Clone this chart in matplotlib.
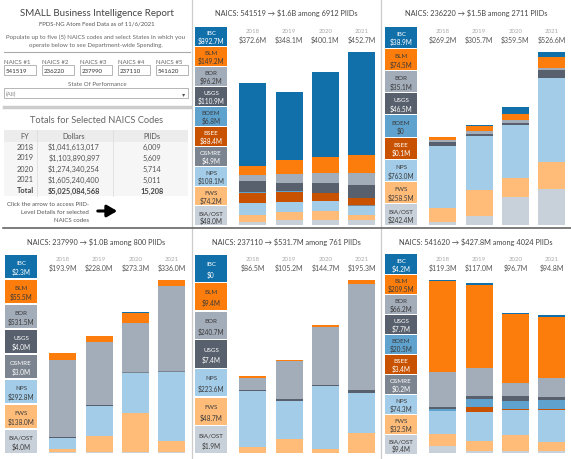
import matplotlib.pyplot as plt
from matplotlib.patches import Rectangle, FancyArrowPatch
import numpy as np

plt.rcParams['font.family'] = ['Lato', 'DejaVu Sans']

# ---- data ----
years = ['2018', '2019', '2020', '2021']
fy_dollars = [1041613017, 1103890897, 1274340254, 1605240400]
fy_piids = [6009, 5609, 5714, 5011]
total_piids = 15208

naics = ['541519', '236220', '237990', '237110', '541620']
naics_sum = ['$1.6B', '$1.5B', '$1.0B', '$531.7M', '$427.8M']
naics_piids = [6912, 2711, 800, 761, 4024]

# legend order, top to bottom (stack order is the reverse)
agencies = ['IBC', 'BLM', 'BOR', 'USGS', 'BOEM', 'BSEE', 'OSMRE', 'NPS', 'FWS', 'BIA/OST']
colors = {'IBC': '#1170aa', 'BLM': '#fc7d0b', 'BOR': '#a3acb9', 'USGS': '#57606c',
          'BOEM': '#5fa2ce', 'BSEE': '#c85200', 'OSMRE': '#7b848f', 'NPS': '#a3cce9',
          'FWS': '#ffbc79', 'BIA/OST': '#c8d0d9'}
dark = ['IBC', 'USGS', 'BSEE', 'OSMRE']

tot_541519 = [372.6, 348.1, 400.1, 452.7]
leg_541519 = {'IBC': 892.7, 'BLM': 149.2, 'BOR': 96.2, 'USGS': 110.9, 'BOEM': 6.8,
              'BSEE': 88.4, 'OSMRE': 4.9, 'NPS': 108.1, 'FWS': 74.2, 'BIA/OST': 48.0}
seg_541519 = {'IBC': [217, 178, 223, 270], 'BLM': [25, 37, 41, 46],
              'BOR': [15, 24, 25.5, 31], 'USGS': [30.5, 20, 26, 34.4],
              'BOEM': [1.5, 1.7, 1.8, 1.8], 'BSEE': [25, 26, 19, 18.4],
              'OSMRE': [1.2, 1.2, 1.2, 1.3], 'NPS': [32, 27, 25.5, 23.6],
              'FWS': [17.5, 19, 23, 14.5], 'BIA/OST': [7.9, 14.2, 14.1, 11.8]}

tot_236220 = [269.2, 305.7, 359.5, 526.6]
leg_236220 = {'IBC': 38.9, 'BLM': 74.5, 'BOR': 35.1, 'USGS': 46.5, 'BOEM': 0,
              'BSEE': 0.1, 'NPS': 763.0, 'FWS': 258.5, 'BIA/OST': 242.4}
seg_236220 = {'IBC': [0.5, 3, 22.4, 15], 'BLM': [9, 16, 17.3, 33],
              'BOR': [8, 9, 8.1, 8], 'USGS': [12, 7, 8.1, 22],
              'BOEM': [0, 0, 0, 0], 'BSEE': [0, 0, 0.1, 0],
              'NPS': [188.8, 163.9, 161.2, 256], 'FWS': [40.7, 78.3, 55.9, 84],
              'BIA/OST': [10.2, 28.5, 86.4, 108.6]}

tot_237990 = [193.9, 228.0, 273.3, 336.0]
leg_237990 = {'IBC': 2.3, 'BLM': 55.5, 'BOR': 531.5, 'USGS': 4.0, 'OSMRE': 3.0,
              'NPS': 292.8, 'FWS': 138.0, 'BIA/OST': 4.0}
seg_237990 = {'IBC': [0, 0, 2.3, 0], 'BLM': [13.7, 12.4, 19.5, 11.1],
              'BOR': [149.5, 122.5, 94.0, 165.5], 'USGS': [1.3, 1.2, 0.7, 0.8],
              'OSMRE': [1.0, 0.8, 0.6, 0.6], 'NPS': [20.8, 57.9, 79.4, 134.7],
              'FWS': [6.6, 32.2, 75.8, 22.3], 'BIA/OST': [1.0, 1.0, 1.0, 1.0]}

tot_237110 = [86.5, 105.2, 144.7, 195.3]
leg_237110 = {'IBC': 0, 'BLM': 9.4, 'BOR': 240.7, 'USGS': 7.4, 'NPS': 223.6,
              'FWS': 48.7, 'BIA/OST': 1.9}
seg_237110 = {'IBC': [0, 0, 0, 0], 'BLM': [1.5, 1.5, 3.0, 4.0],
              'BOR': [13.6, 42.6, 65.0, 120.2], 'USGS': [1.1, 1.9, 1.1, 3.0],
              'NPS': [63.8, 43.6, 70.6, 46.0], 'FWS': [6.0, 15.1, 4.5, 21.7],
              'BIA/OST': [0.5, 0.5, 0.5, 0.4]}

tot_541620 = [119.3, 117.0, 96.7, 94.8]
leg_541620 = {'IBC': 4.2, 'BLM': 209.5, 'BOR': 66.2, 'USGS': 7.7, 'BOEM': 20.5,
              'BSEE': 3.4, 'OSMRE': 0.2, 'NPS': 74.3, 'FWS': 32.5, 'BIA/OST': 9.4}
seg_541620 = {'IBC': [1.0, 1.1, 1.1, 1.0], 'BLM': [62.8, 57.5, 47.3, 41.8],
              'BOR': [23.8, 19.4, 9.2, 13.6], 'USGS': [1.2, 1.8, 3.0, 1.6],
              'BOEM': [1.6, 5.8, 6.0, 6.7], 'BSEE': [0.2, 2.8, 0.2, 0.2],
              'OSMRE': [0, 0, 0.2, 0], 'NPS': [15.6, 20.5, 17.3, 22.0],
              'FWS': [8.0, 6.6, 11.0, 6.5], 'BIA/OST': [5.1, 1.5, 1.4, 1.4]}

totals = [tot_541519, tot_236220, tot_237990, tot_237110, tot_541620]
legends = [leg_541519, leg_236220, leg_237990, leg_237110, leg_541620]
segments = [seg_541519, seg_236220, seg_237990, seg_237110, seg_541620]

# ---- figure ----
W, H = 571, 460
fig = plt.figure(figsize=(W / 100, H / 100), dpi=100)


def fx(x):
    return x / W


def fy(y):
    return 1 - y / H


def txt(x, y, s, **kw):
    kw.setdefault('ha', 'center')
    kw.setdefault('va', 'center')
    fig.text(fx(x), fy(y), s, **kw)


def rect(x, y, w, h, **kw):
    fig.add_artist(Rectangle((fx(x), fy(y + h)), w / W, h / H,
                             transform=fig.transFigure, **kw))


def line(x0, y0, x1, y1, **kw):
    fig.add_artist(plt.Line2D([fx(x0), fx(x1)], [fy(y0), fy(y1)],
                              transform=fig.transFigure, **kw))


# left info panel
txt(97, 14, 'SMALL Business Intelligence Report', fontsize=7.0, color='#444444')
txt(97, 24, 'FPDS-NG Atom Feed Data as of 11/6/2021', fontsize=4.3, color='#555555')
txt(96, 37, 'Populate up to five (5) NAICS codes and select States in which you',
    fontsize=4.4, color='#666666')
txt(96, 45, 'operate below to see Department-wide Spending.', fontsize=4.4, color='#666666')
line(4, 53, 190, 53, color='#aaaaaa', lw=0.8)

box_x = [4, 42, 80, 118, 156]
for i, code in enumerate(naics):
    txt(box_x[i], 62, f'NAICS #{i + 1}', fontsize=4.4, color='#666666', ha='left')
    rect(box_x[i], 66, 32, 10, facecolor='white', edgecolor='#aaaaaa', lw=0.6)
    txt(box_x[i] + 2, 71.3, code, fontsize=4.4, color='#333333', ha='left')

txt(97, 85, 'State Of Performance', fontsize=4.4, color='#666666')
rect(4, 89, 184, 10, facecolor='white', edgecolor='#aaaaaa', lw=0.6)
txt(6, 94.3, '(All)', fontsize=4.4, color='#888888', ha='left')
txt(184, 94.3, '\u25be', fontsize=4.5, color='#555555')
line(4, 108, 190, 108, color='#cccccc', lw=2.5)

txt(97, 121, 'Totals for Selected NAICS Codes', fontsize=6.7, color='#666666')
rect(4, 131, 184, 66, facecolor='#f6f6f6', edgecolor='none')
rect(4, 131, 184, 12, facecolor='#ececec', edgecolor='none')
for xv in [37, 113]:
    line(xv, 131, xv, 197, color='#dddddd', lw=0.6)
col_x = [25, 74, 152]
row_y = [147, 158, 169, 180]
for j, h in enumerate(['FY', 'Dollars', 'PIIDs']):
    txt(col_x[j], 137, h, fontsize=5.3, color='#555555')
for i in range(len(years)):
    txt(col_x[0], row_y[i], years[i], fontsize=5.3, color='#555555')
    txt(col_x[1], row_y[i], f'${fy_dollars[i]:,}', fontsize=5.3, color='#555555')
    txt(col_x[2], row_y[i], f'{fy_piids[i]:,}', fontsize=5.3, color='#555555')
txt(col_x[0], 191, 'Total', fontsize=5.3, color='#444444', weight='bold')
txt(col_x[1], 191, f'${sum(fy_dollars):,}', fontsize=5.3, color='#444444', weight='bold')
txt(col_x[2], 191, f'{total_piids:,}', fontsize=5.3, color='#444444', weight='bold')

for k, s in enumerate(['Click the arrow to access PIID-', 'Level Details for selected',
                       'NAICS codes']):
    txt(89, 205 + 8 * k, s, fontsize=4.4, color='#555555', ha='right')
fig.add_artist(FancyArrowPatch((fx(95), fy(212)), (fx(120), fy(212)),
                               transform=fig.transFigure,
                               arrowstyle='-|>,head_width=0.35,head_length=0.6',
                               lw=2.2, color='black', mutation_scale=10))

# separators
for xv in [192, 381]:
    line(xv, 0, xv, 460, color='#cccccc', lw=0.9)
line(3, 229, 571, 229, color='#666666', lw=1.2)

# chart panels: (left x, title y, top y, bottom y)
frames = [(190, 13, 27, 226), (380, 13, 27, 226),
          (0, 242, 255, 454), (190, 242, 255, 454), (380, 242, 255, 454)]

x = np.arange(len(years))
for p, (px, ty, top, bot) in enumerate(frames):
    txt(px + 96, ty, f'NAICS: {naics[p]} \u2192 {naics_sum[p]} among {naics_piids[p]} PIIDs',
        fontsize=5.3, color='#444444')

    # legend column
    names = [a for a in agencies if a in legends[p]]
    lax = fig.add_axes([fx(px + 5), fy(bot + 1), 32 / W, (bot + 1 - top) / H])
    lax.barh(np.arange(len(names)), [1] * len(names), height=0.95,
             color=[colors[a] for a in names])
    lax.set_xlim(0, 1)
    lax.set_ylim(len(names) - 0.5, -0.5)
    lax.axis('off')
    for i, a in enumerate(names):
        v = legends[p][a]
        c = 'white' if a in dark else '#3a3a3a'
        lax.text(0.5, i - 0.17, a, ha='center', va='center', fontsize=4.5, color=c)
        lax.text(0.5, i + 0.2, '$0' if v == 0 else f'${v:.1f}M', ha='center',
                 va='center', fontsize=4.7, color=c)

    # stacked bars
    ax = fig.add_axes([fx(px + 40), fy(bot), 148 / W, (bot - top) / H])
    bottom = np.zeros(len(years))
    for a in agencies[::-1]:
        if a not in segments[p]:
            continue
        vals = np.array(segments[p][a], dtype=float)
        ax.bar(x, vals, width=0.746, bottom=bottom, color=colors[a], linewidth=0)
        bottom += vals
    ax.set_xlim(-0.635, 3.453)
    ax.set_ylim(0, max(totals[p]) * 1.15)
    ax.axis('off')
    tr = ax.get_xaxis_transform()
    for i in range(len(years)):
        ax.text(x[i], 0.978, years[i], transform=tr, ha='center', va='center',
                fontsize=4.4, color='#aaaaaa')
        ax.text(x[i], 0.934, f'${totals[p][i]:.1f}M', transform=tr, ha='center',
                va='center', fontsize=5.0, color='#555555')

fig.savefig('out.png', dpi=100)
